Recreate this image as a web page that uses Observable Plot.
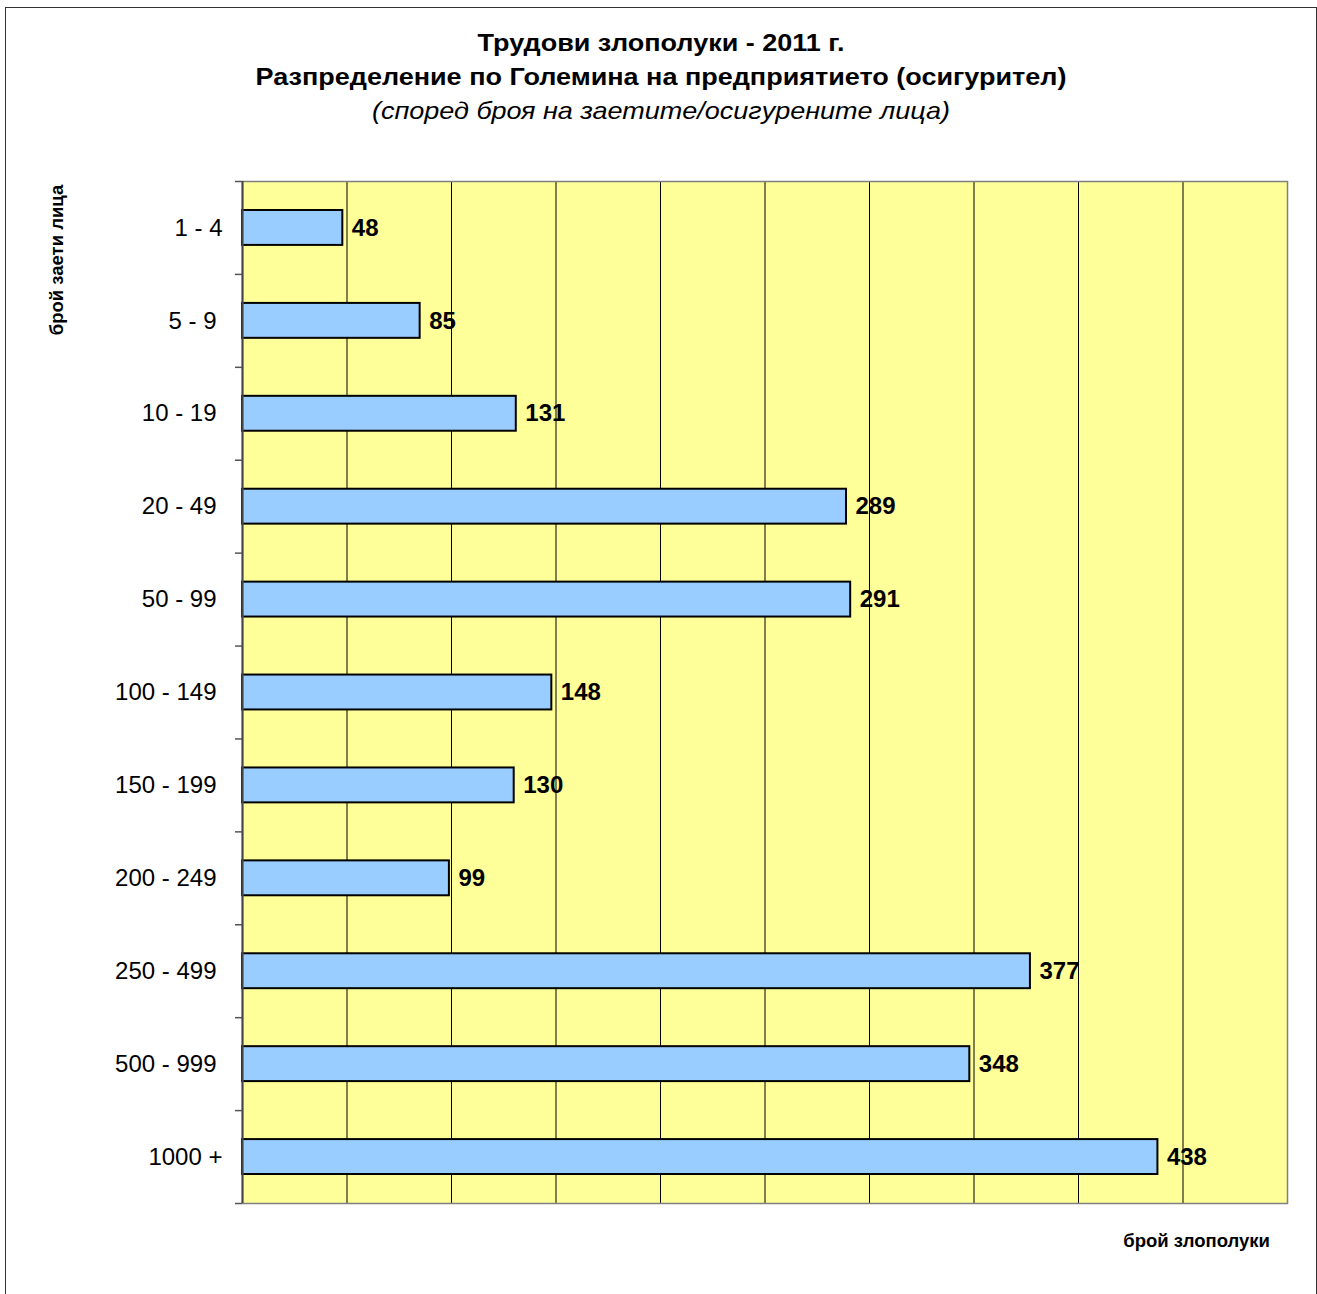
<!DOCTYPE html>
<html>
<head>
<meta charset="utf-8">
<script src="https://cdn.jsdelivr.net/npm/d3@7"></script>
<script src="https://cdn.jsdelivr.net/npm/@observablehq/plot@0.6"></script>
<style>
  html, body { margin: 0; padding: 0; background: #fff; }
  body { width: 1317px; height: 1294px; overflow: hidden; position: relative;
         font-family: "Liberation Sans", Arial, sans-serif; color: #000; }
  #frame { position: absolute; left: 5px; top: 7px; width: 1312px; height: 1320px;
           border: 1px solid #333; box-sizing: border-box; }
  #title { position: absolute; left: 6px; width: 1310px; top: 26px; text-align: center;
           font-size: 24px; line-height: 34px; transform: scaleX(1.125); transform-origin: 655px 0; }
  #title .b { font-weight: bold; }
  #title .i { font-style: italic; }
  #chart { position: absolute; left: 0; top: 140px; }
  #ylab { position: absolute; left: 57px; top: 260px; transform: translate(-50%, -50%) rotate(-90deg);
          white-space: nowrap; font-weight: bold; font-size: 18.5px; }
  #xlab { position: absolute; right: 47px; top: 1231px; line-height: 20px;
          white-space: nowrap; font-weight: bold; font-size: 18.5px; }
</style>
</head>
<body>
<div id="frame"></div>
<div id="title">
  <div class="b">Трудови злополуки - 2011 г.</div>
  <div class="b">Разпределение по Големина на предприятието (осигурител)</div>
  <div class="i">(според броя на заетите/осигурените лица)</div>
</div>
<div id="chart"></div>
<div id="ylab">брой заети лица</div>
<div id="xlab">брой злополуки</div>
<script>
const categories = ["1 - 4", "5 - 9", "10 - 19", "20 - 49", "50 - 99", "100 - 149", "150 - 199", "200 - 249", "250 - 499", "500 - 999", "1000 +"];
const values = [48, 85, 131, 289, 291, 148, 130, 99, 377, 348, 438];
const xTicks = [50, 100, 150, 200, 250, 300, 350, 400, 450, 500];
// labels that sit slightly further right in the original
const shiftedLabels = ["1 - 4", "1000 +"];

const data = categories.map((c, i) => ({category: c, value: values[i]}));

const W = 1317, H = 1154, mT = 41, mB = 91, mL = 242, mR = 30;
const step = (H - mT - mB) / categories.length;
const xMax = 500;
const tickLen = 7 * xMax / (W - mL - mR); // 7px in data units

const chart = Plot.plot({
  width: W,
  height: H,
  marginTop: mT,
  marginBottom: mB,
  marginLeft: mL,
  marginRight: mR,
  style: {fontFamily: "'Liberation Sans', Arial, sans-serif", background: "transparent", overflow: "visible", color: "#000"},
  x: {domain: [0, xMax], axis: null},
  y: {type: "band", domain: categories, padding: 0, round: false, axis: null},
  marks: [
    Plot.frame({fill: "#FFFF99", stroke: null}),
    Plot.gridX(xTicks, {stroke: "#000", strokeOpacity: 1, strokeWidth: 1}),
    Plot.barX(data, {x: "value", y: "category", fill: "#99CCFF", stroke: "#000", strokeWidth: 2, insetTop: 29, insetBottom: 29}),
    Plot.text(data, {x: "value", y: "category", text: d => String(d.value), dx: 9, textAnchor: "start", fontWeight: "bold", fontSize: 24, fill: "#000"}),
    Plot.frame({stroke: "#808080", strokeWidth: 1.5}),
    Plot.ruleX([0], {stroke: "#444", strokeWidth: 2}),
    Plot.ruleY(categories, {y: d => d, dy: -step / 2, x1: -tickLen, x2: 0, stroke: "#555", strokeWidth: 1.5}),
    Plot.ruleY([categories[categories.length - 1]], {y: d => d, dy: step / 2, x1: -tickLen, x2: 0, stroke: "#555", strokeWidth: 1.5}),
    Plot.axisY(categories.filter(c => !shiftedLabels.includes(c)), {tickSize: 0, tickPadding: 26, fontSize: 24, label: null, fill: "#000"}),
    Plot.axisY(shiftedLabels, {tickSize: 0, tickPadding: 20, fontSize: 24, label: null, fill: "#000"})
  ]
});
document.getElementById("chart").appendChild(chart);
</script>
</body>
</html>
